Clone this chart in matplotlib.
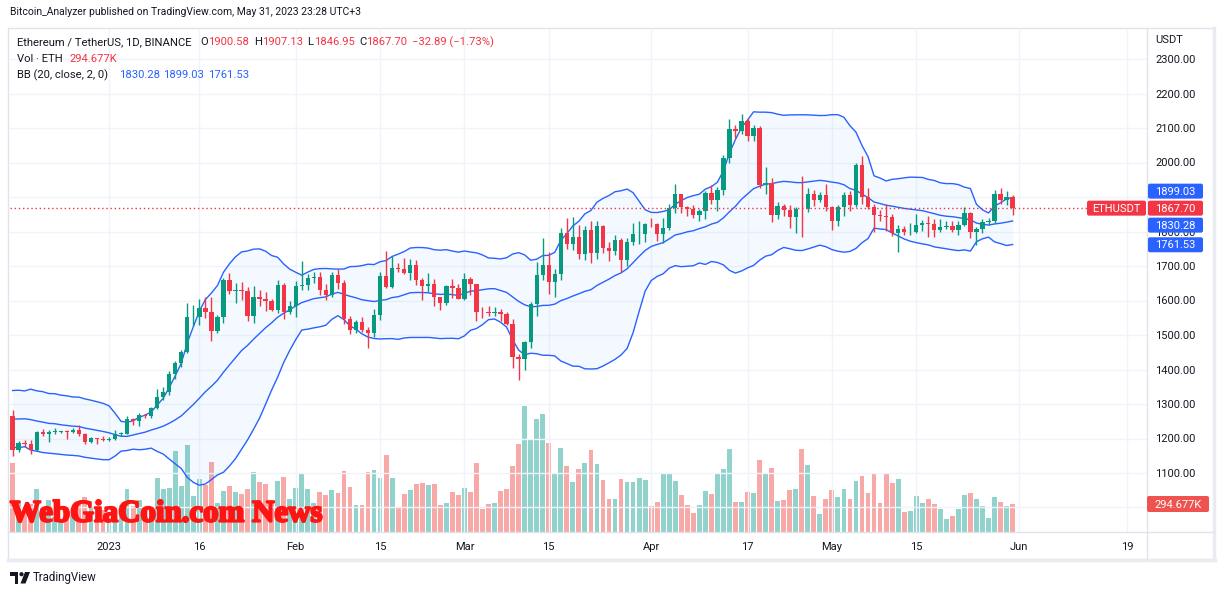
import matplotlib
matplotlib.use('Agg')
import matplotlib.pyplot as plt
import numpy as np
import pandas as pd
import matplotlib.dates as mdates
import matplotlib.patheffects as pe
from matplotlib.patches import FancyBboxPatch, Rectangle, Circle, Polygon

plt.rcParams['font.family'] = ['Roboto', 'DejaVu Sans']

# ---------------- data (ETH/USDT 1D, Binance) ----------------
start_date = '2022-12-16'
# closes of the 19 days before the first visible candle (needed for BB(20))
prior_close = [1195, 1170, 1217, 1297, 1276, 1293, 1241, 1280, 1259, 1270,
               1231, 1281, 1264, 1265, 1263, 1275, 1320, 1309, 1265]

open_dec = [1265, 1167, 1187, 1184, 1167, 1218, 1212, 1219, 1220, 1221, 1219, 1226, 1212, 1190, 1201, 1199]
high_dec = [1282, 1192, 1197, 1195, 1222, 1227, 1224, 1230, 1223, 1224, 1231, 1238, 1215, 1205, 1202, 1207]
low_dec = [1150, 1160, 1176, 1155, 1165, 1206, 1190, 1214, 1215, 1200, 1215, 1207, 1185, 1186, 1185, 1193]
close_dec = [1167, 1187, 1184, 1167, 1218, 1212, 1219, 1220, 1221, 1219, 1226, 1212, 1190, 1201, 1199, 1196]
vol_dec = [726, 326, 210, 295, 452, 263, 337, 158, 105, 126, 179, 295, 368, 263, 263, 231]

open_jan = [1196, 1200, 1214, 1214, 1256, 1251, 1269, 1264, 1288, 1321, 1336, 1387, 1418, 1451, 1551, 1552,
            1577, 1567, 1512, 1552, 1659, 1627, 1630, 1628, 1556, 1611, 1603, 1598, 1572, 1646, 1566]
high_jan = [1204, 1225, 1220, 1265, 1260, 1273, 1271, 1291, 1343, 1349, 1396, 1425, 1456, 1592, 1586, 1603,
            1610, 1610, 1558, 1665, 1680, 1652, 1655, 1640, 1641, 1630, 1624, 1604, 1660, 1650, 1600]
low_jan = [1192, 1195, 1206, 1212, 1240, 1236, 1258, 1259, 1286, 1312, 1325, 1372, 1406, 1447, 1525, 1530,
           1550, 1482, 1505, 1535, 1620, 1592, 1602, 1540, 1535, 1585, 1570, 1569, 1565, 1547, 1560]
close_jan = [1200, 1214, 1214.5, 1256, 1251, 1269, 1264, 1288, 1321, 1336, 1387, 1418, 1451, 1551, 1552, 1577,
             1567, 1512, 1552, 1659, 1627, 1630, 1628, 1556, 1611, 1603, 1598, 1572, 1646, 1566, 1585]
vol_jan = [126, 231, 284, 452, 274, 337, 158, 263, 568, 452, 463, 852, 484, 915, 379, 558,
           494, 736, 305, 431, 484, 421, 400, 452, 631, 526, 505, 316, 537, 579, 347]

open_feb = [1585, 1642, 1644, 1665, 1668, 1630, 1617, 1673, 1651, 1546, 1515, 1539, 1515, 1507, 1557, 1672,
            1640, 1694, 1692, 1680, 1702, 1658, 1642, 1649, 1609, 1594, 1641, 1635]
high_feb = [1657, 1715, 1677, 1682, 1683, 1649, 1682, 1690, 1660, 1556, 1543, 1553, 1524, 1575, 1682, 1743,
            1728, 1710, 1722, 1721, 1716, 1664, 1681, 1661, 1611, 1645, 1663, 1647]
low_feb = [1551, 1630, 1630, 1651, 1615, 1602, 1610, 1634, 1531, 1504, 1507, 1508, 1461, 1493, 1543, 1636,
           1637, 1683, 1676, 1660, 1645, 1601, 1625, 1585, 1573, 1587, 1608, 1603]
close_feb = [1642, 1644, 1665, 1668, 1630, 1617, 1673, 1651, 1546, 1515, 1539, 1515, 1507, 1557, 1672, 1640,
             1694, 1692, 1680, 1702, 1658, 1642, 1649, 1609, 1594, 1641, 1635, 1605]
vol_feb = [463, 610, 452, 305, 421, 389, 442, 410, 642, 473, 284, 284, 631, 652, 568, 810,
           568, 263, 400, 442, 505, 515, 494, 505, 284, 305, 421, 389]

open_mar = [1605, 1663, 1647, 1568, 1566, 1564, 1566, 1561, 1533, 1437, 1429, 1481, 1590, 1675, 1702, 1655,
            1677, 1795, 1763, 1783, 1736, 1805, 1738, 1817, 1751, 1744, 1774, 1716, 1770, 1792, 1794]
high_mar = [1680, 1669, 1647, 1580, 1585, 1582, 1575, 1568, 1547, 1445, 1484, 1596, 1713, 1780, 1740, 1690,
            1810, 1840, 1842, 1820, 1815, 1829, 1830, 1820, 1770, 1790, 1780, 1781, 1825, 1830, 1826]
low_mar = [1602, 1617, 1542, 1550, 1554, 1554, 1540, 1528, 1403, 1369, 1400, 1462, 1555, 1658, 1620, 1610,
           1660, 1750, 1745, 1720, 1718, 1710, 1720, 1738, 1715, 1733, 1682, 1700, 1760, 1765, 1770]
close_mar = [1663, 1647, 1568, 1566, 1564, 1566, 1561, 1533, 1437, 1429, 1481, 1590, 1675, 1702, 1655, 1677,
             1795, 1763, 1783, 1736, 1805, 1738, 1817, 1751, 1744, 1774, 1716, 1770, 1792, 1794, 1823]
vol_mar = [463, 421, 726, 242, 295, 305, 431, 452, 694, 926, 1326, 968, 1189, 1241, 936, 610,
           884, 694, 526, 663, 726, 863, 715, 547, 347, 347, 558, 526, 526, 568, 547]

open_apr = [1823, 1821, 1794, 1809, 1868, 1908, 1872, 1865, 1849, 1859, 1911, 1892, 1919, 2012, 2098, 2092,
            2121, 2076, 2101, 1936, 1941, 1849, 1875, 1862, 1842, 1866, 1865, 1909, 1891, 1907]
high_apr = [1840, 1825, 1838, 1880, 1937, 1910, 1875, 1877, 1865, 1918, 1936, 1929, 2022, 2125, 2108, 2140,
            2125, 2110, 2105, 1986, 1955, 1885, 1880, 1878, 1870, 1961, 1925, 1920, 1914, 1938]
low_apr = [1812, 1773, 1766, 1804, 1855, 1855, 1845, 1840, 1830, 1836, 1880, 1860, 1906, 2000, 2070, 2082,
           2061, 2061, 1925, 1910, 1828, 1836, 1845, 1810, 1795, 1785, 1857, 1875, 1886, 1860]
close_apr = [1821, 1794, 1809, 1868, 1908, 1872, 1865, 1849, 1859, 1911, 1892, 1919, 2012, 2098, 2092, 2121,
             2076, 2101, 1936, 1941, 1849, 1875, 1862, 1842, 1866, 1865, 1909, 1891, 1907, 1870]
vol_apr = [274, 316, 610, 610, 537, 389, 284, 200, 284, 431, 400, 610, 663, 873, 316, 316,
           421, 410, 757, 610, 673, 326, 337, 442, 452, 873, 705, 379, 189, 347]

open_may = [1870, 1831, 1871, 1907, 1876, 1993, 1900, 1872, 1848, 1846, 1842, 1796, 1808, 1798, 1800, 1820,
            1824, 1822, 1803, 1812, 1817, 1803, 1818, 1855, 1800, 1806, 1827, 1829, 1910, 1891, 1900.58]
high_may = [1875, 1877, 1915, 1918, 2000, 2018, 1925, 1880, 1862, 1880, 1852, 1818, 1816, 1825, 1850, 1832,
            1845, 1835, 1835, 1830, 1830, 1830, 1872, 1857, 1813, 1835, 1839, 1920, 1927, 1918, 1907.13]
low_may = [1805, 1817, 1846, 1860, 1870, 1880, 1866, 1800, 1830, 1802, 1787, 1740, 1790, 1790, 1795, 1801,
           1785, 1783, 1800, 1806, 1800, 1790, 1815, 1780, 1760, 1796, 1818, 1825, 1880, 1878, 1846.95]
close_may = [1831, 1871, 1907, 1876, 1993, 1900, 1872, 1848, 1846, 1842, 1796, 1808, 1798, 1800, 1820, 1824,
             1822, 1803, 1812, 1817, 1803, 1818, 1855, 1800, 1806, 1827, 1829, 1910, 1891, 1900.59, 1867.70]
vol_may = [442, 368, 452, 347, 537, 589, 410, 610, 305, 621, 515, 558, 210, 221, 379, 305,
           347, 294, 242, 137, 168, 242, 389, 410, 347, 274, 147, 368, 316, 274, 294.677]

tick_dates = ['2023-01-01', '2023-01-16', '2023-02-01', '2023-02-15', '2023-03-01', '2023-03-15',
              '2023-04-01', '2023-04-17', '2023-05-01', '2023-05-15', '2023-06-01', '2023-06-19']
tick_labels = ['2023', '16', 'Feb', '15', 'Mar', '15', 'Apr', '17', 'May', '15', 'Jun', '19']
price_ticks = [1000, 1100, 1200, 1300, 1400, 1500, 1600, 1700, 1800, 1900, 2000, 2100, 2200, 2300]

last_price = 1867.70
bb_values = {'basis': 1830.28, 'upper': 1899.03, 'lower': 1761.53}
last_vol_label = '294.677K'

# ---------------- assemble ----------------
opens = np.array(open_dec + open_jan + open_feb + open_mar + open_apr + open_may, float)
highs = np.array(high_dec + high_jan + high_feb + high_mar + high_apr + high_may, float)
lows = np.array(low_dec + low_jan + low_feb + low_mar + low_apr + low_may, float)
closes = np.array(close_dec + close_jan + close_feb + close_mar + close_apr + close_may, float)
vols = np.array(vol_dec + vol_jan + vol_feb + vol_mar + vol_apr + vol_may, float)
dates = pd.date_range(start_date, periods=len(closes), freq='D')
x = mdates.date2num(dates)

allc = pd.Series(list(prior_close) + list(closes))
n0 = len(prior_close)
basis = allc.rolling(20).mean().to_numpy()[n0:]
sd = allc.rolling(20).std(ddof=0).to_numpy()[n0:]
upper = basis + 2 * sd
lower = basis - 2 * sd

# ---------------- figure / layout ----------------
W, H = 1225, 595
fig = plt.figure(figsize=(W / 100, H / 100), dpi=100)
fig.patch.set_facecolor('white')


def rect(x0, y0, x1, y1):
    return [x0 / W, 1 - y1 / H, (x1 - x0) / W, (y1 - y0) / H]


PL, PT, PR, PB = 10, 30, 1147, 532
ax_vol = fig.add_axes(rect(PL, PT, PR, PB))
ax = fig.add_axes(rect(PL, PT, PR, PB), sharex=ax_vol)
ax.patch.set_visible(False)

GREEN, RED, BLUE = '#089981', '#f23645', '#2962ff'
TXT = '#131722'

# x range (pixels -> days): Jan 1 at x=109, 6.024 px/day
d0 = mdates.date2num(pd.Timestamp('2023-01-01'))
ppd = 6.024
ax.set_xlim(d0 + (PL - 109) / ppd, d0 + (PR - 109) / ppd)
ppu = 414 / 1200.0
ax.set_ylim(2300 - (PB - 59) / ppu, 2300 + (59 - PT) / ppu)
vol_k_per_px = 294.677 / 28.0
ax_vol.set_ylim(0, (PB - PT) * vol_k_per_px)

# volume
vcol = np.where(closes >= opens, '#92d2cc', '#f7a9a7')
ax_vol.bar(x, vols, width=0.8, color=vcol, linewidth=0, zorder=2)
ax_vol.set_yticks([])
ax_vol.tick_params(axis='x', labelbottom=False, length=0)
for s in ax_vol.spines.values():
    s.set_visible(False)

# grid and ticks (1900 label is fully hidden behind the price tags in the reference)
ax.set_xticks(mdates.date2num(pd.to_datetime(tick_dates)))
ax.set_xticklabels(tick_labels)
ax.set_yticks(price_ticks)
ax.set_yticklabels(['' if p in (1000, 1900) else f'{p:.2f}' for p in price_ticks])
ax.grid(True, color='#f0f3fa', linewidth=1, zorder=0)
ax.set_axisbelow(True)
ax.yaxis.tick_right()
ax.tick_params(axis='y', length=0, pad=5.8, labelsize=8, labelcolor=TXT)
ax.tick_params(axis='x', length=0, pad=7, labelsize=8, labelcolor=TXT)
for s in ax.spines.values():
    s.set_visible(False)

# Bollinger bands
ax.fill_between(x, lower, upper, color='#2196f3', alpha=0.05, linewidth=0, zorder=1)
for band in (upper, basis, lower):
    ax.plot(x, band, color=BLUE, linewidth=1, zorder=2)

# candles
up = closes >= opens
ccol = np.where(up, GREEN, RED)
ax.vlines(x, lows, highs, colors=ccol, linewidth=1, zorder=3)
ax.bar(x, np.maximum(np.abs(closes - opens), 1.5), bottom=np.minimum(opens, closes),
       width=0.72, color=ccol, linewidth=0, zorder=4)

# last price line
ax.axhline(last_price, color=RED, linewidth=1, linestyle=(0, (1, 2)), zorder=5)

# ---------------- overlay (pixel coordinates) ----------------
ov = fig.add_axes([0, 0, 1, 1])
ov.set_xlim(0, W)
ov.set_ylim(H, 0)
ov.axis('off')
ov.set_zorder(10)


def ypix(val):
    return H - ax.transData.transform((x[0], val))[1]


# frame / separators
fr = '#e0e3eb'
ov.add_patch(Rectangle((8, 28), 1206, 531, fill=False, edgecolor=fr, linewidth=1))
ov.plot([1214, 1214], [28, 560], color='#e9ebf0', linewidth=2.5)
ov.plot([8, 1215], [559.5, 559.5], color='#e9ebf0', linewidth=2.5)
ov.plot([PR, PR], [28, 559], color=fr, linewidth=1)
ov.plot([8, 1214], [PB, PB], color=fr, linewidth=1)

# header texts
ov.text(10, 12, 'Bitcoin_Analyzer published on TradingView.com, May 31, 2023 23:28 UTC+3',
        fontsize=7.5, color=TXT, va='center', ha='left')
fs = 8.1
ov.text(17, 42, 'Ethereum / TetherUS, 1D, BINANCE', fontsize=fs, color=TXT, va='center')
ov.text(200, 42, 'O', fontsize=fs, color=TXT, va='center')
ov.text(208, 42, f'{opens[-1]:.2f}', fontsize=fs, color=RED, va='center')
ov.text(254, 42, 'H', fontsize=fs, color=TXT, va='center')
ov.text(262, 42, f'{highs[-1]:.2f}', fontsize=fs, color=RED, va='center')
ov.text(307, 42, 'L', fontsize=fs, color=TXT, va='center')
ov.text(314, 42, f'{lows[-1]:.2f}', fontsize=fs, color=RED, va='center')
ov.text(359, 42, 'C', fontsize=fs, color=TXT, va='center')
ov.text(366, 42, f'{closes[-1]:.2f}', fontsize=fs, color=RED, va='center')
chg = closes[-1] - closes[-2]
ov.text(412, 42, f'\u2212{abs(chg):.2f} (\u2212{abs(chg) / closes[-2] * 100:.2f}%)',
        fontsize=fs, color=RED, va='center')
ov.text(17, 59, 'Vol \u00b7 ETH', fontsize=fs, color=TXT, va='center')
ov.text(69, 59, last_vol_label, fontsize=fs, color=RED, va='center')
ov.text(17, 75, 'BB (20, close, 2, 0)', fontsize=fs, color=TXT, va='center')
ov.text(119, 75, f"{bb_values['basis']:.2f}", fontsize=fs, color=BLUE, va='center')
ov.text(163, 75, f"{bb_values['upper']:.2f}", fontsize=fs, color=BLUE, va='center')
ov.text(208, 75, f"{bb_values['lower']:.2f}", fontsize=fs, color=BLUE, va='center')
ov.text(1155, 40, 'USDT', fontsize=8, color=TXT, va='center')


def tag(x0, x1, yc, text, color, h=15):
    ov.add_patch(FancyBboxPatch((x0, yc - h / 2), x1 - x0, h,
                                boxstyle='round,pad=0,rounding_size=2',
                                fc=color, ec='none', zorder=20))
    ov.text((x0 + x1) / 2, yc + 0.5, text, fontsize=8, color='white',
            ha='center', va='center', zorder=21)


gap = 17
y_last = ypix(last_price)
y_up = min(ypix(bb_values['upper']), y_last - gap)
y_mid = max(ypix(bb_values['basis']), y_last + gap)
y_low = max(ypix(bb_values['lower']), y_mid + gap)
tag(PR + 1, 1203, y_up, f"{bb_values['upper']:.2f}", BLUE)
tag(PR + 1, 1203, y_mid, f"{bb_values['basis']:.2f}", BLUE)
tag(PR + 1, 1203, y_low, f"{bb_values['lower']:.2f}", BLUE)
tag(PR + 1, 1203, y_last, f'{last_price:.2f}', RED)
tag(1087, PR - 1, y_last, 'ETHUSDT', RED)
y_vol = H - ax_vol.transData.transform((x[-1], vols[-1]))[1]
tag(PR, 1209, y_vol, last_vol_label, '#ef5350', h=16)

# watermark
wm = ov.text(10, 514, 'WebGiaCoin.com News', fontsize=24, color='#ff1414',
             family=['Liberation Serif', 'DejaVu Serif'], fontweight='bold',
             ha='left', va='center', zorder=30,
             path_effects=[pe.withStroke(linewidth=1.6, foreground='#ff1414')])
fig.canvas.draw()
bb = wm.get_window_extent()
wm.set_fontsize(24 * 313.0 / bb.width)

# TradingView logo
ov.add_patch(Rectangle((10, 572), 8, 3.5, fc=TXT, ec='none'))
ov.add_patch(Rectangle((14.5, 572), 3.5, 11.5, fc=TXT, ec='none'))
ov.add_patch(Circle((21.5, 574.2), 2.1, fc=TXT, ec='none'))
ov.add_patch(Polygon([(25, 572), (30, 572), (25.5, 583.5), (20.5, 583.5)], closed=True, fc=TXT, ec='none'))
ov.text(33, 578, 'TradingView', fontsize=8.3, color=TXT, va='center', ha='left')

fig.savefig('out.png', dpi=100, facecolor='white')
